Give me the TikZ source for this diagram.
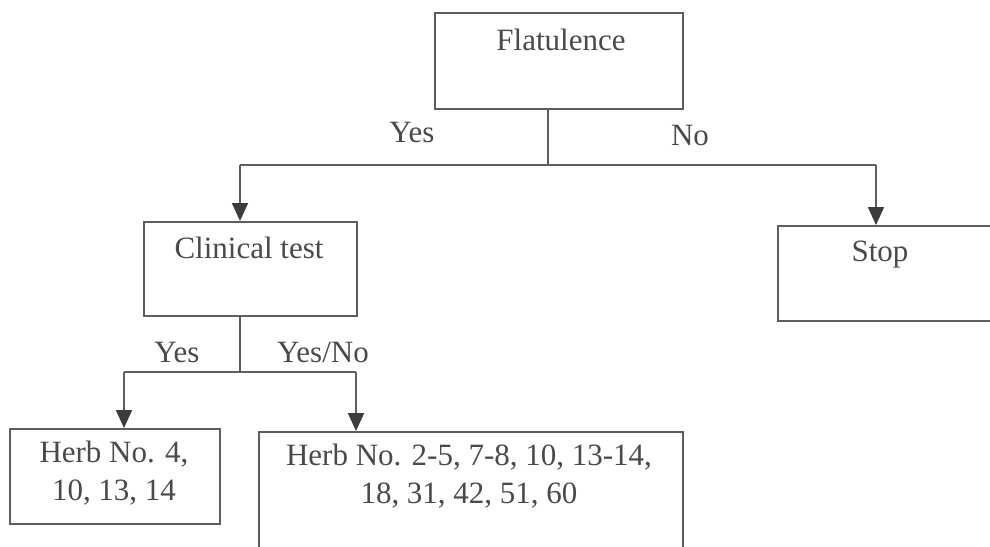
\documentclass[tikz,border=0pt]{standalone}
\usepackage{fontspec}
\setmainfont{Liberation Serif}
\usetikzlibrary{arrows.meta}
\definecolor{edgegray}{HTML}{5E5E5E}
\definecolor{tipgray}{HTML}{3C3C3C}
\definecolor{inkgray}{HTML}{4A4A4A}
\begin{document}
\begin{tikzpicture}[x=1pt,y=-1pt,
  box/.style={draw=edgegray,line width=1.8pt,rectangle,inner sep=0pt,anchor=north west},
  txt/.style={text=inkgray,font=\fontsize{31}{38}\selectfont,inner sep=0pt,align=center},
  wire/.style={draw=edgegray,line width=1.8pt},
  arr/.style={wire,-{Triangle[length=18pt,width=16pt,color=tipgray]}}]
\useasboundingbox (0,0) rectangle (990,546);
\fill[white] (0,0) rectangle (990,546);

% boxes
\node[box,minimum width=248pt,minimum height=96pt] (flat) at (434,12) {};
\node[box,minimum width=213pt,minimum height=94pt] (clin) at (143,221) {};
\node[box,minimum width=214pt,minimum height=95pt] (stop) at (777,225) {};
\node[box,minimum width=210pt,minimum height=95pt] (herbA) at (9,428) {};
\node[box,minimum width=424pt,minimum height=120pt] (herbB) at (258,431) {};

% box texts
\node[txt] (tflat) at (561,40) {Flatulence};
\node[txt] (tclin) at (249,248) {Clinical test};
\node[txt] (tstop) at (880,255) {Stop};
\node[txt] (therbA) at (114,473) {Herb No. 4,\\10, 13, 14};
\node[txt] (therbB) at (469,476) {Herb No. 2-5, 7-8, 10, 13-14,\\18, 31, 42, 51, 60};

% branch labels
\node[txt] (lyes1) at (412,133) {Yes};
\node[txt] (lno1) at (690,136) {No};
\node[txt] (lyes2) at (177,352) {Yes};
\node[txt] (lyesno) at (323,352) {Yes/No};

% junctions
\coordinate (j1) at (548,165);
\coordinate (j1l) at (240,165);
\coordinate (j1r) at (876,165);
\coordinate (j2) at (240,372);
\coordinate (j2l) at (124,372);
\coordinate (j2r) at (356,372);

% connectors
\draw[wire] (flat.south -| j1) -- (j1);
\draw[wire] (j1l) -- (j1r);
\draw[arr] (j1l) -- (j1l |- clin.north);
\draw[arr] (j1r) -- (j1r |- stop.north);
\draw[wire] (clin.south -| j2) -- (j2);
\draw[wire] (j2l) -- (j2r);
\draw[arr] (j2l) -- (j2l |- herbA.north);
\draw[arr] (j2r) -- (j2r |- herbB.north);
\end{tikzpicture}
\end{document}
